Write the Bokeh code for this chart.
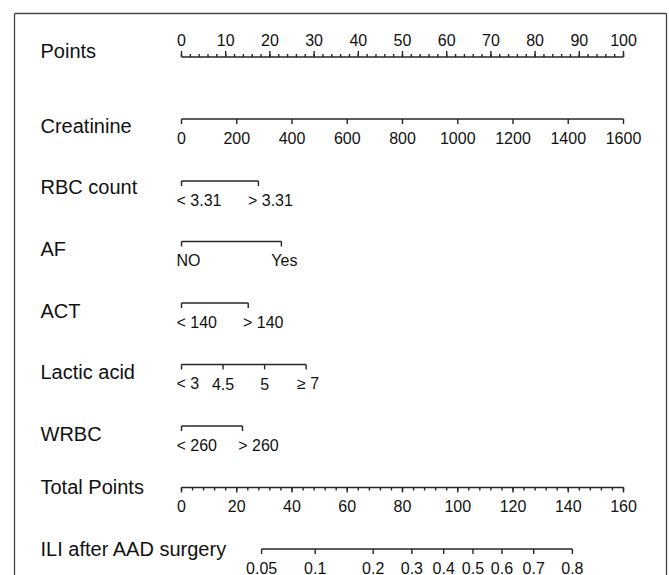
from bokeh.plotting import figure
from bokeh.models import Range1d, ColumnDataSource
from bokeh.embed import file_html
from bokeh.resources import INLINE
from bokeh.core.properties import value

# ---------------- data ----------------
points_major = list(range(0, 101, 10))
points_minor = list(range(0, 101, 2))

creat_ticks = [0, 200, 400, 600, 800, 1000, 1200, 1400, 1600]
creat_max_value = 1600
creat_max_points = 100.0

rbc_levels = ["< 3.31", "> 3.31"]
rbc_points = [0.0, 17.4]

af_levels = ["NO", "Yes"]
af_points = [0.0, 22.6]

act_levels = ["< 140", "> 140"]
act_points = [0.0, 15.1]

lactic_levels = ["< 3", "4.5", "5", "\u2265 7"]
lactic_points = [0.0, 9.4, 18.8, 28.2]

wrbc_levels = ["< 260", "> 260"]
wrbc_points = [0.0, 13.8]

total_major = list(range(0, 161, 20))
total_minor = list(range(0, 161, 4))
total_max = 160

ili_probs = ["0.05", "0.1", "0.2", "0.3", "0.4", "0.5", "0.6", "0.7", "0.8"]
ili_total_points = [29.0, 48.4, 69.4, 83.4, 94.9, 105.5, 116.0, 127.5, 141.5]

# ---------------- layout / style ----------------
W, H = 669, 575
X0_PX = 181.0        # screen x of points = 0
PX_PER_PT = 4.42     # screen px per point

def px_to_pt(px):
    return (px - X0_PX) / PX_PER_PT

FONT = value("Liberation Sans")
LAB_SIZE = "20px"
TICK_SIZE = "16px"
LINE_COLOR = "#262626"
LW = 1.4

p = figure(width=W, height=H, output_backend="svg", toolbar_location=None,
           x_range=Range1d(px_to_pt(0), px_to_pt(W)),
           y_range=Range1d(H, 0))
p.min_border = 0
p.min_border_left = p.min_border_right = p.min_border_top = p.min_border_bottom = 0
p.axis.visible = False
p.xgrid.visible = False
p.ygrid.visible = False
p.outline_line_color = None
p.background_fill_color = "white"
p.border_fill_color = "white"

# frame (left, top, right)
fl, fr, ft, fb = px_to_pt(14), px_to_pt(666), 13.0, 590.0
p.segment(x0=[fl, fl, fr], y0=[fb, ft, ft], x1=[fl, fr, fr], y1=[ft, ft, fb],
          line_color="#444444", line_width=1.3)

LABEL_X = px_to_pt(40)

def row_label(text, y):
    p.text(x=[LABEL_X], y=[y], text=[text], text_font=FONT, text_font_size=LAB_SIZE,
           text_baseline="middle", text_align="left", text_color="#111111")

def hline(x0, x1, y):
    p.segment(x0=[x0], y0=[y], x1=[x1], y1=[y], line_color=LINE_COLOR, line_width=LW)

def ticks(xs, y, length):
    p.segment(x0=xs, y0=[y] * len(xs), x1=xs, y1=[y + length] * len(xs),
              line_color=LINE_COLOR, line_width=LW)

def tick_labels(xs, labels, y, align="center", offsets=None):
    src = ColumnDataSource(dict(x=xs, y=[y] * len(xs), t=labels,
                                off=offsets if offsets else [0] * len(xs)))
    p.text(x="x", y="y", text="t", x_offset="off", source=src, text_font=FONT,
           text_font_size=TICK_SIZE, text_baseline="middle", text_align=align,
           text_color="#111111")

# Points
y = 56.5
row_label("Points", 50)
hline(0, 100, y)
ticks(points_minor, y, -3)
ticks(points_major, y, -6)
tick_labels(points_major, [str(v) for v in points_major], 39)

# Creatinine
y = 118.5
row_label("Creatinine", 125)
cx = [v / creat_max_value * creat_max_points for v in creat_ticks]
hline(cx[0], cx[-1], y)
ticks(cx, y, 5)
tick_labels(cx, [str(v) for v in creat_ticks], 137)

# categorical rows
def cat_row(name, name_y, line_y, levels, pts, nudges):
    row_label(name, name_y)
    hline(pts[0], pts[-1], line_y)
    ticks(pts, line_y, 5)
    lab_y = line_y + 19
    tick_labels([pts[0]], [levels[0]], lab_y, align="left", offsets=[-5])
    tick_labels(pts[1:], levels[1:], lab_y, align="center", offsets=nudges)

cat_row("RBC count", 186, 180.5, rbc_levels, rbc_points, [12])
cat_row("AF", 248, 241.0, af_levels, af_points, [3])
cat_row("ACT", 310, 302.5, act_levels, act_points, [15])
cat_row("Lactic acid", 371, 364.0, lactic_levels, lactic_points, [0, 0, 2])
cat_row("WRBC", 433, 425.5, wrbc_levels, wrbc_points, [16])

# Total Points
y = 487.0
row_label("Total Points", 486)
tx_major = [v * 100.0 / total_max for v in total_major]
tx_minor = [v * 100.0 / total_max for v in total_minor]
hline(tx_major[0], tx_major[-1], y)
ticks(tx_minor, y, 3)
ticks(tx_major, y, 5)
tick_labels(tx_major, [str(v) for v in total_major], 505)

# ILI probability
y = 548.5
row_label("ILI after AAD surgery", 548)
ix = [v * 100.0 / total_max for v in ili_total_points]
hline(ix[0], ix[-1], y)
ticks(ix, y, 5)
tick_labels(ix, ili_probs, 567)

open("out.html", "w").write(file_html(p, INLINE))
